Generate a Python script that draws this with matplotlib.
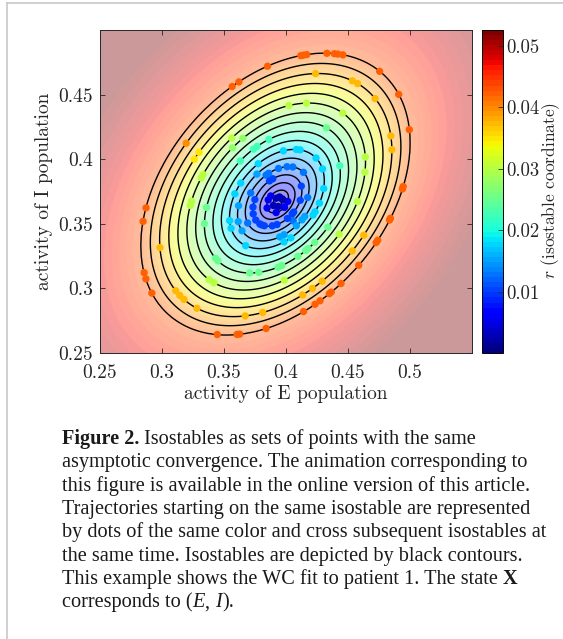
import numpy as np
import matplotlib
matplotlib.use("Agg")
import matplotlib.pyplot as plt
from matplotlib.lines import Line2D
from matplotlib.cm import ScalarMappable
from matplotlib.colors import Normalize

plt.rcParams["font.family"] = "cmr10"
plt.rcParams["mathtext.fontset"] = "cm"
plt.rcParams["axes.formatter.use_mathtext"] = True

# isostable field (data units)
fixed_point = (0.3935, 0.3665)
outer_shift = (-0.002, 0.0065)      # centre of outermost isostable minus fixed point
outer_width = 0.1085
outer_height = 0.109
outer_rho = 0.365
inner_power = 0.85
outer_growth = 0.42
iso_levels = [0.0025, 0.0050, 0.0075, 0.0100, 0.0125, 0.0150, 0.0175, 0.0200, 0.0225,
              0.0250, 0.0275, 0.0300, 0.0325, 0.0350, 0.0375, 0.0400, 0.0425]
cbar_max = 0.0526

x_ticks = [0.25, 0.3, 0.35, 0.4, 0.45, 0.5]
x_tick_labels = ["0.25", "0.3", "0.35", "0.4", "0.45", "0.5"]
y_ticks = [0.25, 0.3, 0.35, 0.4, 0.45]
y_tick_labels = ["0.25", "0.3", "0.35", "0.4", "0.45"]
c_ticks = [0.01, 0.02, 0.03, 0.04, 0.05]
c_tick_labels = ["0.01", "0.02", "0.03", "0.04", "0.05"]

# dots (trajectory snapshot)
dot_E = [0.3852, 0.3575, 0.3627, 0.3180, 0.3280, 0.3240, 0.3355, 0.3340, 0.3550, 0.3580,
         0.3637, 0.3620, 0.3730, 0.3760, 0.3860, 0.4020, 0.3976, 0.3787, 0.3645,
         0.4119, 0.4140, 0.4167, 0.4328, 0.4387, 0.4414, 0.4452, 0.4739, 0.4890, 0.4987,
         0.4848, 0.4833, 0.4948, 0.4956, 0.4234, 0.4520, 0.4560, 0.4695, 0.4156, 0.4451,
         0.4304, 0.4625, 0.4630, 0.4465, 0.4073, 0.4100, 0.4223, 0.4277, 0.4008, 0.4056,
         0.4140, 0.4298, 0.4110,
         0.2905, 0.2873, 0.2846, 0.2865, 0.2910, 0.2986, 0.3100, 0.3134, 0.3169, 0.3277,
         0.3448, 0.3604, 0.3625, 0.3667, 0.3810, 0.3838, 0.3367, 0.3410, 0.3223, 0.3255,
         0.3390, 0.3360, 0.3430, 0.3450, 0.3706, 0.3780, 0.3935, 0.3968, 0.3988, 0.3537,
         0.3537, 0.3657, 0.3637, 0.3657, 0.3737, 0.3790, 0.3887, 0.3927, 0.3949, 0.3988,
         0.4861, 0.4850, 0.4760, 0.4745, 0.4608, 0.4459, 0.4378, 0.4362, 0.4285, 0.4242,
         0.4147, 0.4647, 0.4545, 0.4303, 0.4220, 0.4140, 0.4583, 0.4443, 0.4341, 0.4234,
         0.4180, 0.4163, 0.4100, 0.4270, 0.4242, 0.4227, 0.4190, 0.4046, 0.4072, 0.4081,
         0.4017, 0.4135, 0.4061, 0.4102,
         0.3940, 0.3830, 0.3858, 0.3775, 0.3871, 0.3898, 0.3588, 0.3696, 0.3746, 0.3733,
         0.3643, 0.3685, 0.3739, 0.3779, 0.3819, 0.4048, 0.4115, 0.3981,
         0.3914, 0.3954, 0.3986, 0.3873, 0.3898, 0.3938, 0.3978, 0.4011, 0.3857, 0.3922,
         0.3962, 0.4002, 0.3881]
dot_I = [0.4712, 0.4540, 0.4578, 0.4133, 0.4065, 0.4010, 0.3873, 0.3848, 0.4110, 0.4140,
         0.4186, 0.3998, 0.4096, 0.4117, 0.4168, 0.4386, 0.4035, 0.3945, 0.3810,
         0.4798, 0.4804, 0.4809, 0.4814, 0.4809, 0.4804, 0.4794, 0.4660, 0.4486, 0.4225,
         0.4071, 0.4173, 0.3771, 0.3790, 0.4648, 0.4583, 0.4560, 0.4445, 0.4404, 0.4348,
         0.4209, 0.4010, 0.3898, 0.3968, 0.4045, 0.4040, 0.3988, 0.3912, 0.3942, 0.3942,
         0.3898, 0.3771, 0.3783,
         0.3625, 0.3522, 0.3117, 0.3071, 0.2958, 0.3317, 0.2973, 0.2937, 0.2906, 0.2840,
         0.2648, 0.2640, 0.2642, 0.2775, 0.2796, 0.2675, 0.3052, 0.3032, 0.3642, 0.3675,
         0.3629, 0.3506, 0.3232, 0.3212, 0.3117, 0.3122, 0.3155, 0.3168, 0.3040, 0.3522,
         0.3455, 0.3309, 0.3527, 0.3455, 0.3514, 0.3475, 0.3475, 0.3480, 0.3412, 0.3335,
         0.3540, 0.3527, 0.3365, 0.3348, 0.3163, 0.3019, 0.2950, 0.2937, 0.2880, 0.2855,
         0.2798, 0.3404, 0.3283, 0.3035, 0.2983, 0.2927, 0.3673, 0.3412, 0.3471, 0.3355,
         0.3304, 0.3288, 0.3240, 0.3660, 0.3591, 0.3565, 0.3706, 0.3373, 0.3506, 0.3488,
         0.3532, 0.3565, 0.3591, 0.3681,
         0.3932, 0.3898, 0.3898, 0.3873, 0.3822, 0.3829, 0.3732, 0.3745, 0.3688, 0.3629,
         0.3642, 0.3502, 0.3578, 0.3488, 0.3475, 0.3578, 0.3540, 0.3437,
         0.3712, 0.3727, 0.3704, 0.3681, 0.3642, 0.3619, 0.3635, 0.3673, 0.3627, 0.3596,
         0.3681, 0.3619, 0.3712]


def isostable_r(E, I):
    r_out = iso_levels[-1]
    r = np.full(np.shape(E), 0.5 * r_out)
    for _ in range(60):
        s = r / r_out
        uE = (E - fixed_point[0] - outer_shift[0] * s) / outer_width
        uI = (I - fixed_point[1] - outer_shift[1] * s) / outer_height
        d = np.sqrt(np.maximum(uE ** 2 - 2 * outer_rho * uE * uI + uI ** 2, 0) / (1 - outer_rho ** 2))
        d = np.maximum(d, 1e-12)
        f = np.where(d < 1, d ** inner_power, 1 + outer_growth * np.log(d))
        r = r_out * f
    return r


fig = plt.figure(figsize=(5.63, 6.39), dpi=100)
ax = fig.add_axes([100 / 563, 1 - 353 / 639, 372 / 563, 323 / 639])
cax = fig.add_axes([482 / 563, 1 - 353 / 639, 21 / 563, 323 / 639])

cmap = plt.get_cmap("jet", 64)
norm = Normalize(0, cbar_max)

gE, gI = np.meshgrid(np.linspace(0.25, 0.55, 500), np.linspace(0.25, 0.5, 420))
R = isostable_r(gE, gI)
ax.imshow(R, origin="lower", extent=(0.25, 0.55, 0.25, 0.5), cmap=cmap, norm=norm,
          alpha=0.4, aspect="auto", interpolation="bilinear", zorder=0)
ax.contour(gE, gI, R, levels=iso_levels, colors="k", linewidths=1.0, zorder=1)

# put every dot on its nearest isostable (move along ray from fixed point)
dE = np.array(dot_E)
dI = np.array(dot_I)
lev = np.array(iso_levels)
r_dot = isostable_r(dE, dI)
target = lev[np.argmin(np.abs(r_dot[:, None] - lev[None, :]), axis=1)]
lo = np.zeros_like(dE)
hi = np.full_like(dE, 3.0)
for _ in range(40):
    mid = 0.5 * (lo + hi)
    rm = isostable_r(fixed_point[0] + mid * (dE - fixed_point[0]),
                     fixed_point[1] + mid * (dI - fixed_point[1]))
    lo = np.where(rm < target, mid, lo)
    hi = np.where(rm >= target, mid, hi)
t = 0.5 * (lo + hi)
sE = fixed_point[0] + t * (dE - fixed_point[0])
sI = fixed_point[1] + t * (dI - fixed_point[1])
ax.scatter(sE, sI, c=target, cmap=cmap, norm=norm, s=28, edgecolors="none", zorder=3)

fs = 14
ax.set_xlim(0.25, 0.55)
ax.set_ylim(0.25, 0.5)
ax.set_xticks(x_ticks)
ax.set_xticklabels(x_tick_labels)
ax.set_yticks(y_ticks)
ax.set_yticklabels(y_tick_labels)
ax.tick_params(direction="in", top=True, right=True, length=3.5, width=0.6,
               labelsize=fs, colors="#262626")
ax.tick_params(axis="x", pad=8)
ax.tick_params(axis="y", pad=5)
for sp in ax.spines.values():
    sp.set_linewidth(0.7)
    sp.set_color("#262626")
ax.set_xlabel("activity of E population", fontsize=fs, color="#262626", labelpad=2)
ax.set_ylabel("activity of I population", fontsize=fs, color="#262626", labelpad=4)

cb = fig.colorbar(ScalarMappable(norm=norm, cmap=cmap), cax=cax)
cb.set_ticks(c_ticks)
cb.set_ticklabels(c_tick_labels)
cax.tick_params(direction="in", length=3.5, width=0.6, labelsize=13.5, pad=2, colors="#262626")
cb.outline.set_linewidth(0.7)
fig.text(551 / 563, 1 - 190 / 639, "$r$ (isostable coordinate)", fontsize=12.5,
         color="#262626", rotation=90, ha="center", va="center")

# page frame
fig.add_artist(Line2D([7 / 563, 7 / 563], [0, 1 - 3 / 639], color="#c8c8c8", lw=1.2))
fig.add_artist(Line2D([7 / 563, 1], [1 - 3 / 639, 1 - 3 / 639], color="#c8c8c8", lw=1.2))

caption = [
    [("Figure 2.", "bold", "normal"), (" Isostables as sets of points with the same", "normal", "normal")],
    [("asymptotic convergence. The animation corresponding to", "normal", "normal")],
    [("this figure is available in the online version of this article.", "normal", "normal")],
    [("Trajectories starting on the same isostable are represented", "normal", "normal")],
    [("by dots of the same color and cross subsequent isostables at", "normal", "normal")],
    [("the same time. Isostables are depicted by black contours.", "normal", "normal")],
    [("This example shows the WC fit to patient 1. The state ", "normal", "normal"), ("X", "bold", "normal")],
    [("corresponds to (", "normal", "normal"), ("E", "normal", "italic"), (", ", "normal", "normal"),
     ("I", "normal", "italic"), (").", "normal", "normal")],
]
renderer = fig.canvas.get_renderer()
y = 1 - 444 / 639
for line in caption:
    x = 62 / 563
    for text, weight, style in line:
        tx = fig.text(x, y, text, fontsize=14.6, family="Liberation Serif", weight=weight,
                      style=style, va="baseline", ha="left", color="#1a1a1a")
        x += tx.get_window_extent(renderer=renderer).width / fig.bbox.width
    y -= 23.3 / 639

fig.savefig("out.png", dpi=100)
